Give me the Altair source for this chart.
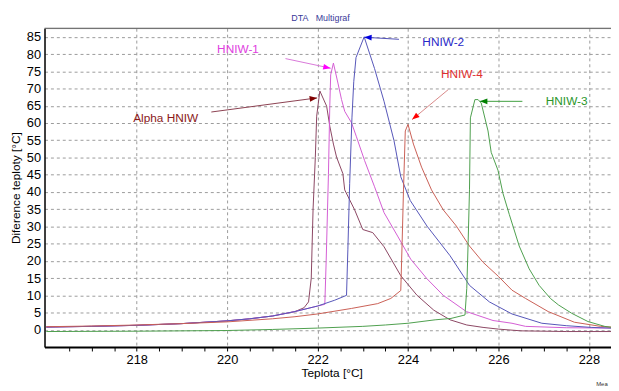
import math
import altair as alt
import pandas as pd

# ---------------- data ----------------
series_names = ["Alpha HNIW", "HNIW-1", "HNIW-2", "HNIW-4", "HNIW-3"]
line_colors = ["#8A4562", "#D35CD3", "#5454B8", "#C95E54", "#4C9E4C"]

alpha_x = [216.0, 217.0, 218.0, 219.0, 220.0, 220.5, 221.0, 221.5, 221.7, 221.8,
           221.86, 221.9, 221.95, 221.98, 222.05, 222.2, 222.27, 222.35, 222.42,
           222.56, 222.6, 222.82, 223.0, 223.22, 223.47, 223.84, 224.2, 224.57,
           224.93, 225.3, 225.66, 226.0, 226.5, 227.5, 228.5]
alpha_y = [0.8, 1.0, 1.3, 1.8, 2.6, 3.2, 4.0, 5.3, 6.4, 8.1,
           15.0, 35.0, 50.0, 62.0, 69.3, 64.9, 59.1, 53.9, 50.1,
           45.3, 40.6, 34.8, 29.1, 28.2, 24.1, 15.7, 10.0, 5.7,
           2.9, 1.4, 0.7, 0.2, -0.3, -0.5, -0.5]

hniw1_x = [216.0, 217.0, 218.0, 219.0, 220.0, 220.5, 221.0, 221.5, 222.0, 222.16,
           222.19, 222.24, 222.27, 222.29, 222.35, 222.45, 222.53, 222.6, 222.75,
           222.86, 223.04, 223.26, 223.47, 223.77, 224.06, 224.42, 224.78, 225.29,
           225.88, 226.3, 226.6, 227.5, 228.5]
hniw1_y = [0.8, 1.0, 1.3, 1.8, 2.6, 3.2, 4.0, 5.3, 6.9, 7.4,
           20.0, 45.0, 65.0, 74.0, 77.4, 71.6, 66.8, 63.4, 60.1,
           56.0, 49.1, 41.5, 34.0, 27.2, 20.5, 14.8, 10.0, 5.3,
           2.7, 1.9, 1.0, 0.6, 0.5]

hniw2_x = [216.0, 217.0, 218.0, 219.0, 220.0, 220.5, 221.0, 221.5, 222.0, 222.38,
           222.64, 222.67, 222.71, 222.76, 222.8, 222.85, 223.03, 223.26, 223.47,
           223.69, 223.84, 224.05, 224.42, 224.93, 225.36, 225.8, 226.3, 226.96,
           227.5, 228.05, 228.5]
hniw2_y = [0.8, 1.0, 1.3, 1.8, 2.6, 3.2, 4.0, 5.3, 6.9, 8.6,
           10.0, 23.4, 42.5, 61.5, 72.0, 79.0, 85.0, 75.8, 66.3,
           54.9, 44.4, 37.5, 30.1, 21.5, 12.9, 8.1, 4.6, 1.9,
           1.2, 0.7, 0.5]

hniw4_x = [216.0, 217.0, 218.0, 219.0, 220.0, 221.0, 221.5, 222.0, 222.75, 223.33,
           223.62, 223.84, 223.87, 223.9, 223.94, 224.0, 224.12, 224.3, 224.52,
           224.78, 225.07, 225.36, 225.66, 226.0, 226.3, 226.6, 227.1, 227.68,
           228.26, 228.5]
hniw4_y = [0.9, 1.1, 1.4, 1.8, 2.3, 3.2, 3.8, 4.6, 6.2, 7.6,
           9.1, 11.4, 25.3, 40.6, 57.7, 59.6, 53.9, 47.2, 40.6,
           34.8, 30.1, 24.3, 19.6, 15.5, 11.5, 9.1, 5.3, 2.2,
           1.0, 0.8]

hniw3_x = [216.0, 218.0, 220.0, 221.0, 222.0, 223.0, 223.5, 224.0, 224.6, 224.95,
           225.26, 225.3, 225.33, 225.36, 225.38, 225.48, 225.55, 225.62, 225.77,
           225.84, 225.99, 226.1, 226.24, 226.46, 226.68, 226.9, 227.15, 227.33,
           227.62, 227.98, 228.35, 228.5]
hniw3_y = [-0.5, -0.4, -0.2, 0.1, 0.5, 1.0, 1.4, 1.9, 2.9, 3.3,
           4.3, 12.0, 25.3, 40.6, 61.5, 66.8, 66.8, 65.8, 57.7,
           51.5, 46.3, 39.6, 33.5, 24.3, 17.7, 12.9, 9.1, 7.2,
           4.8, 2.4, 1.0, 0.7]

# annotations (labels + arrows), in data units
label_text = ["Alpha HNIW", "HNIW-1", "HNIW-2", "HNIW-4", "HNIW-3"]
label_x = [218.64, 220.24, 224.78, 225.19, 227.51]
label_y = [61.5, 81.5, 83.5, 74.1, 66.3]
label_colors = ["#8B1A1A", "#E040E0", "#2828C8", "#E03030", "#2A962A"]
arrow_x0 = [219.65, 221.29, 223.80, 224.89, 226.53]
arrow_y0 = [63.2, 78.7, 84.3, 69.7, 66.3]
arrow_x1 = [221.99, 222.29, 223.03, 224.09, 225.59]
arrow_y1 = [67.3, 75.9, 84.9, 61.0, 66.3]
arrow_line_colors = ["#8B4050", "#D878D8", "#5050B8", "#D88888", "#40A040"]
arrow_head_colors = ["#800000", "#FF00FF", "#0000E0", "#FF0000", "#008000"]

title_text = "DTA\u00a0\u00a0\u00a0Multigraf"
corner_text = "Mea"

# ---------------- chart geometry ----------------
XDOM = [215.96, 228.49]
YDOM = [-5, 87.5]
W, H = 574, 323
FONT = "Liberation Sans"

rows = []
for name, xs, ys in zip(series_names,
                        [alpha_x, hniw1_x, hniw2_x, hniw4_x, hniw3_x],
                        [alpha_y, hniw1_y, hniw2_y, hniw4_y, hniw3_y]):
    for i, (xv, yv) in enumerate(zip(xs, ys)):
        rows.append({"series": name, "x": xv, "y": yv, "i": i})
df = pd.DataFrame(rows)

px_x = W / (XDOM[1] - XDOM[0])
px_y = H / (YDOM[1] - YDOM[0])
angles = [math.degrees(math.atan2((x1 - x0) * px_x, (y1 - y0) * px_y)) % 360
          for x0, y0, x1, y1 in zip(arrow_x0, arrow_y0, arrow_x1, arrow_y1)]
ann = pd.DataFrame({
    "label": label_text, "x": label_x, "y": label_y, "lc": label_colors,
    "x0": arrow_x0, "y0": arrow_y0, "x1": arrow_x1, "y1": arrow_y1,
    "ac": arrow_line_colors, "hc": arrow_head_colors, "ang": angles,
})

xscale = alt.Scale(domain=XDOM, nice=False, zero=False)
yscale = alt.Scale(domain=YDOM, nice=False, zero=False)

x_vals = [216.5 + 0.5 * k for k in range(24)]
is_major = "datum.value % 2 === 0"

x_axis = alt.Axis(
    values=x_vals,
    labelExpr=f"{is_major} ? format(datum.value, 'd') : ''",
    labelOverlap=False, labelFlush=False,
    grid=True,
    gridOpacity={"condition": {"test": is_major, "value": 1}, "value": 0},
    gridDash=[3, 3], gridColor="#9a9a9a", gridWidth=1,
    tickSize=4, tickColor="#000000", tickWidth=1,
    domainColor="#000000", domainWidth=2,
    labelPadding=3, labelFontSize=13, labelColor="#000000", labelFont=FONT,
    title="Teplota [°C]", titleFont=FONT, titleFontSize=12, titleFontWeight="normal",
    titleColor="#000000", titleX=291, titleY=30, titleAlign="center",
    titleBaseline="alphabetic",
)
y_axis = alt.Axis(
    values=list(range(0, 90, 5)),
    grid=True, gridDash=[3, 3], gridColor="#9a9a9a", gridWidth=1,
    tickSize=0, labelPadding=4, labelFontSize=13, labelColor="#000000", labelFont=FONT,
    domainColor="#000000", domainWidth=1.5,
    title="Diference teploty [°C]", titleFont=FONT, titleFontSize=12,
    titleFontWeight="normal", titleColor="#000000",
    titleX=-29, titleY=H / 2, titleAngle=270, titleAlign="center", titleBaseline="middle",
)

X = alt.X("x:Q", scale=xscale, axis=x_axis)
Y = alt.Y("y:Q", scale=yscale, axis=y_axis)

lines = alt.Chart(df).mark_line(strokeWidth=1, clip=True).encode(
    x=X, y=Y,
    color=alt.Color("series:N", scale=alt.Scale(domain=series_names, range=line_colors),
                    legend=None),
    order=alt.Order("i:Q"),
)

arrows = alt.Chart(ann).mark_rule(strokeWidth=1).encode(
    x=alt.X("x0:Q", scale=xscale, axis=x_axis),
    y=alt.Y("y0:Q", scale=yscale, axis=y_axis),
    x2="x1:Q", y2="y1:Q",
    color=alt.Color("ac:N", scale=None),
)

heads = alt.Chart(ann).mark_point(
    shape="M0,0L-0.38,1L0.38,1Z", filled=True, size=230, opacity=1, strokeWidth=0
).encode(
    x=alt.X("x1:Q", scale=xscale, axis=x_axis),
    y=alt.Y("y1:Q", scale=yscale, axis=y_axis),
    angle=alt.Angle("ang:Q", scale=None),
    color=alt.Color("hc:N", scale=None),
)

labels = alt.Chart(ann).mark_text(fontSize=12, font=FONT, align="center",
                                  baseline="middle").encode(
    x=X, y=Y,
    text="label:N",
    color=alt.Color("lc:N", scale=None),
)

top_line = alt.Chart(pd.DataFrame({"k": [0]})).mark_rule(
    color="#505050", strokeWidth=1
).encode(x=alt.value(0), x2=alt.value(W), y=alt.value(0))

head_title = alt.Chart(pd.DataFrame({"t": [title_text]})).mark_text(
    fontSize=9, font=FONT, color="#3A3A9A", align="left", baseline="alphabetic"
).encode(text="t:N", x=alt.value(250), y=alt.value(-7))

corner = alt.Chart(pd.DataFrame({"t": [corner_text]})).mark_text(
    fontSize=6, font=FONT, color="#333333", align="left", baseline="alphabetic"
).encode(text="t:N", x=alt.value(559), y=alt.value(H + 39))

chart = alt.layer(lines, arrows, heads, labels, top_line, head_title, corner).properties(
    width=W, height=H,
    autosize=alt.AutoSizeParams(type="none"),
    padding={"left": 37, "top": 18, "right": 0, "bottom": 42},
    background="white",
).configure_view(stroke=None).configure(font=FONT)

chart.save("out.html", embed_options={"renderer": "svg", "actions": False})
